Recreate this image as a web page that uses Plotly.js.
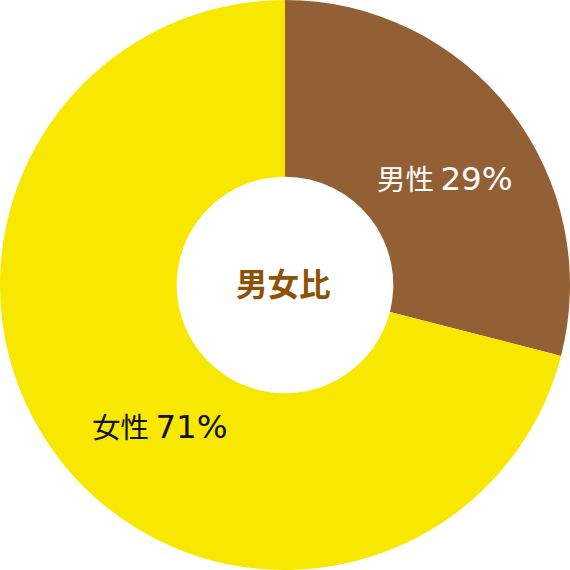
<!DOCTYPE html>
<html>
<head>
<meta charset="utf-8">
<script src="https://cdn.plot.ly/plotly-3.0.1.min.js"></script>
<style>
  html, body { margin: 0; padding: 0; background: #fff; }
  #chart { width: 570px; height: 570px; }
</style>
</head>
<body>
<div id="chart"></div>
<script>
// 男女比データ
const labels = ['男性', '女性'];
const values = [29, 71];
const colors = ['#936035', '#f8e800'];
const textColors = ['#ffffff', '#111111'];
const centerTitle = '男女比';

// ラベル位置 (paper座標)
const labelPos = [[0.781, 0.689], [0.281, 0.254]];

const trace = {
  type: 'pie',
  labels: labels,
  values: values,
  hole: 0.38,
  sort: false,
  direction: 'clockwise',
  rotation: 0,
  marker: { colors: colors, line: { width: 0 } },
  textinfo: 'none',
  hoverinfo: 'label+percent',
  domain: { x: [0, 1], y: [0, 1] }
};

const labelAnnotations = labels.map((lab, i) => ({
  text: lab + ' <span style="font-family:DejaVu Sans;font-size:32.5px">' + values[i] + '%</span>',
  x: labelPos[i][0], y: labelPos[i][1], xref: 'paper', yref: 'paper',
  xanchor: 'center', yanchor: 'middle',
  showarrow: false,
  font: { family: 'Noto Sans CJK JP', size: 28.5, color: textColors[i] }
}));

const layout = {
  width: 570,
  height: 570,
  margin: { t: 0, b: 0, l: 0, r: 0 },
  paper_bgcolor: '#ffffff',
  showlegend: false,
  annotations: labelAnnotations.concat([{
    text: '<b>' + centerTitle + '</b>',
    x: 0.497, y: 0.506, xref: 'paper', yref: 'paper',
    xanchor: 'center', yanchor: 'middle',
    showarrow: false,
    font: { family: 'Noto Sans CJK JP', size: 31.5, color: '#8d5205' }
  }])
};

Plotly.newPlot('chart', [trace], layout, { displayModeBar: false, staticPlot: true });
</script>
</body>
</html>
